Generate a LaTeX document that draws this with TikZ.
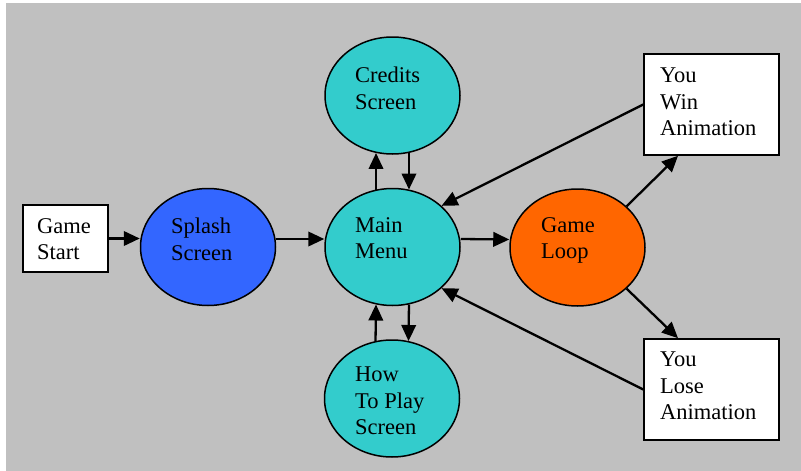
\documentclass[tikz,border=0pt]{standalone}
\usepackage{fontspec}
\setmainfont{Liberation Serif}
\usetikzlibrary{shapes.geometric,arrows.meta}
\definecolor{bggray}{HTML}{C0C0C0}
\definecolor{cyanfill}{HTML}{33CCCC}
\definecolor{bluefill}{HTML}{3366FF}
\definecolor{orangefill}{HTML}{FF6600}
\tikzset{
  state/.style={ellipse, draw=black, line width=1.5pt, minimum width=135pt, minimum height=117pt, inner sep=0pt},
  whitebox/.style={rectangle, draw=black, fill=white, line width=1.6pt, inner sep=0pt},
  lbl/.style={anchor=north west, align=left, inner sep=0pt, font=\fontsize{22.5}{26.3}\selectfont},
  conn/.style={line width=2.3pt, -{Triangle[length=16pt,width=14.5pt]}}
}
\begin{document}
\begin{tikzpicture}[x=1pt,y=-1pt]
\useasboundingbox (0,0) rectangle (801,471);
\fill[bggray] (6,3) rectangle (801,471);
% nodes
\node[whitebox, minimum width=85pt, minimum height=67pt] (gs) at (65.5,238.5) {};
\node[state, fill=bluefill] (sp) at (208,247) {};
\node[state, fill=cyanfill] (mm) at (392.5,247) {};
\node[state, fill=cyanfill] (cr) at (392.5,95.5) {};
\node[state, fill=cyanfill] (ht) at (392,398.5) {};
\node[state, fill=orangefill] (gl) at (577.5,247.5) {};
\node[whitebox, minimum width=135pt, minimum height=101pt] (yw) at (711.5,104.5) {};
\node[whitebox, minimum width=135pt, minimum height=101pt] (yl) at (711.5,389.5) {};
% labels
\node[lbl] (gst) at (37,218) {Game\\Start};
\node[lbl] (spt) at (171,218) {Splash\\Screen};
\node[lbl] (mmt) at (355,217) {Main\\Menu};
\node[lbl] (crt) at (355,67) {Credits\\Screen};
\node[lbl] (htt) at (355,367) {How\\To Play\\Screen};
\node[lbl] (glt) at (541,217) {Game\\Loop};
\node[lbl] (ywt) at (660,68) {You\\Win\\Animation};
\node[lbl] (ylt) at (660,352) {You\\Lose\\Animation};
% connectors
\draw[conn] (gs.east) -- (gs.east -| sp.west);
\draw[conn] ([yshift=8pt]sp.east) -- ([yshift=8pt]mm.west);
\draw[conn] ([yshift=8pt]mm.east) -- ([yshift=8pt]gl.west);
\draw[conn] (mm.106) -- (cr.254);
\draw[conn] (cr.286) -- (mm.74);
\draw[conn] (mm.286) -- (ht.74);
\draw[conn] (ht.106) -- (mm.254);
\draw[conn] (yw.west) -- (mm.40);
\draw[conn] (yl.west) -- (mm.320);
\draw[conn] (gl.40) -- ([xshift=-33.5pt]yw.south);
\draw[conn] (gl.320) -- ([xshift=-33.5pt]yl.north);
\end{tikzpicture}
\end{document}
